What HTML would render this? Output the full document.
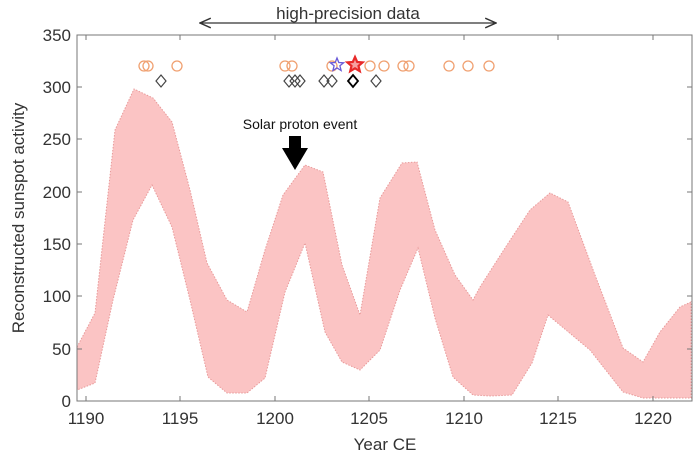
<!DOCTYPE html><html><head><style>body{margin:0;background:#fff}svg{display:block;font-family:"Liberation Sans",sans-serif}</style></head><body>
<svg width="700" height="460" viewBox="0 0 700 460">
<defs><marker id="a" markerWidth="10" markerHeight="10" refX="9" refY="5" orient="auto-start-reverse"><path d="M0,1 L9,5 L0,9" fill="none" stroke="#333" stroke-width="1.2"/></marker></defs>
<polygon fill="#fbc4c4" stroke="#e89a9a" stroke-width="1" stroke-dasharray="1.5,1.5" points="77,347 95,313 115,130 134,89 153,98 172,122 190,190 207,263 227,300 247,312 265,250 283,195 305,165 323,172 342,265 360,315 380,198 402,163 417,162 435,230 455,275 473,300 480,287 505,248 530,210 550,193 568,202 595,275 623,348 643,362 660,332 680,307 691,302 691,398 643,398 623,392 590,350 548,315 532,363 512,395 491,396 473,395 453,377 435,318 418,248 400,290 380,350 360,370 342,362 325,332 305,243 285,292 265,378 247,393 227,393 208,377 190,300 172,227 152,185 133,220 113,300 95,383 77,390"/>
<rect x="77" y="35" width="615" height="366" fill="none" stroke="#777" stroke-width="1"/>
<g stroke="#777"><line x1="86" y1="401" x2="86" y2="396"/><line x1="180" y1="401" x2="180" y2="396"/><line x1="275" y1="401" x2="275" y2="396"/><line x1="369" y1="401" x2="369" y2="396"/><line x1="464" y1="401" x2="464" y2="396"/><line x1="558" y1="401" x2="558" y2="396"/><line x1="653" y1="401" x2="653" y2="396"/>
<line x1="86" y1="35" x2="86" y2="40"/><line x1="180" y1="35" x2="180" y2="40"/><line x1="275" y1="35" x2="275" y2="40"/><line x1="369" y1="35" x2="369" y2="40"/><line x1="464" y1="35" x2="464" y2="40"/><line x1="558" y1="35" x2="558" y2="40"/><line x1="653" y1="35" x2="653" y2="40"/>
<line x1="77" y1="87" x2="82" y2="87"/><line x1="77" y1="139" x2="82" y2="139"/><line x1="77" y1="192" x2="82" y2="192"/><line x1="77" y1="244" x2="82" y2="244"/><line x1="77" y1="296" x2="82" y2="296"/><line x1="77" y1="349" x2="82" y2="349"/>
<line x1="692" y1="87" x2="687" y2="87"/><line x1="692" y1="139" x2="687" y2="139"/><line x1="692" y1="192" x2="687" y2="192"/><line x1="692" y1="244" x2="687" y2="244"/><line x1="692" y1="296" x2="687" y2="296"/><line x1="692" y1="349" x2="687" y2="349"/></g>
<g font-size="17" fill="#333" text-anchor="end"><text x="71" y="41">350</text><text x="71" y="93">300</text><text x="71" y="145">250</text><text x="71" y="198">200</text><text x="71" y="250">150</text><text x="71" y="302">100</text><text x="71" y="355">50</text><text x="71" y="407">0</text></g>
<g font-size="17" fill="#333" text-anchor="middle"><text x="86" y="424">1190</text><text x="180" y="424">1195</text><text x="275" y="424">1200</text><text x="369" y="424">1205</text><text x="464" y="424">1210</text><text x="558" y="424">1215</text><text x="653" y="424">1220</text>
<text x="385" y="450">Year CE</text><text x="348" y="19">high-precision data</text></g>
<text transform="translate(24,218) rotate(-90)" font-size="17" fill="#333" text-anchor="middle">Reconstructed sunspot activity</text>
<line x1="200" y1="23" x2="496" y2="23" stroke="#333" stroke-width="1.2" marker-start="url(#a)" marker-end="url(#a)"/>
<g fill="none" stroke="#f0a070" stroke-width="1.3"><circle cx="144" cy="66" r="5"/><circle cx="148" cy="66" r="5"/><circle cx="177" cy="66" r="5"/><circle cx="285" cy="66" r="5"/><circle cx="292" cy="66" r="5"/><circle cx="332" cy="66" r="5"/><circle cx="370" cy="66" r="5"/><circle cx="384" cy="66" r="5"/><circle cx="403" cy="66" r="5"/><circle cx="409" cy="66" r="5"/><circle cx="449" cy="66" r="5"/><circle cx="468" cy="66" r="5"/><circle cx="489" cy="66" r="5"/></g>
<g fill="none" stroke="#444" stroke-width="1.2"><path d="M161,75 l5,6 l-5,6 l-5,-6z"/><path d="M289,75 l5,6 l-5,6 l-5,-6z"/><path d="M295,75 l5,6 l-5,6 l-5,-6z"/><path d="M300,75 l5,6 l-5,6 l-5,-6z"/><path d="M324,75 l5,6 l-5,6 l-5,-6z"/><path d="M332,75 l5,6 l-5,6 l-5,-6z"/><path d="M353,75 l5,6 l-5,6 l-5,-6z" stroke="#000" stroke-width="1.8"/><path d="M376,75 l5,6 l-5,6 l-5,-6z"/></g>
<path d="M337,58 l1.8,4.5 4.8,.3 -3.7,3 1.2,4.7 -4.1,-2.6 -4.1,2.6 1.2,-4.7 -3.7,-3 4.8,-.3z" fill="none" stroke="#6a5ad8" stroke-width="1.3"/>
<path d="M355,57 l2.2,5 5.4,.4 -4.1,3.5 1.3,5.3 -4.8,-2.9 -4.8,2.9 1.3,-5.3 -4.1,-3.5 5.4,-.4z" fill="#f7a0a0" stroke="#e82a2a" stroke-width="2.2"/>
<text x="300" y="129" font-size="14" fill="#111" text-anchor="middle">Solar proton event</text>
<path d="M289,136 h12 v12 h7 l-13,22 l-13,-22 h7z" fill="#000"/>
</svg></body></html>
